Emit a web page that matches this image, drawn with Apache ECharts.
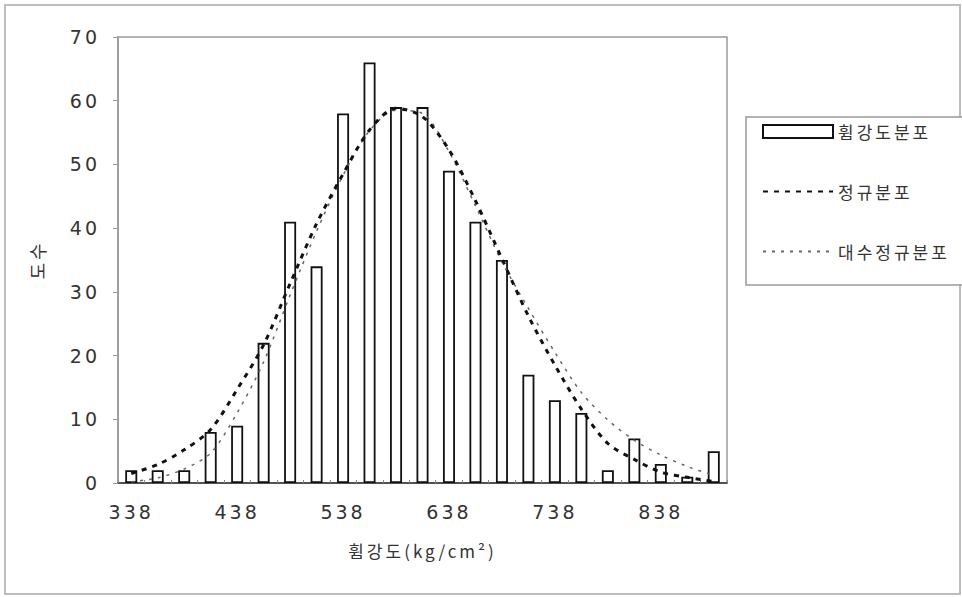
<!DOCTYPE html>
<html>
<head>
<meta charset="utf-8">
<script src="https://cdn.jsdelivr.net/npm/echarts@6/dist/echarts.min.js"></script>
<style>
  html, body { margin: 0; padding: 0; background: #fff; }
  #chart { width: 962px; height: 597px; }
  #chart svg text { letter-spacing: 3px; }
</style>
</head>
<body>
<div id="chart"></div>
<script>
// Data
const categories = ['338','363','388','413','438','463','488','513','538','563','588','613','638','663','688','713','738','763','788','813','838','863','888'];
const strengthFreq = [2, 2, 2, 8, 9, 22, 41, 34, 58, 66, 59, 59, 49, 41, 35, 17, 13, 11, 2, 7, 3, 1, 5];
const normalDist = [1.5, 2.9, 5.2, 8.4, 14.7, 21.7, 31.3, 40.7, 48.5, 55.4, 58.8, 57.5, 52.3, 44.3, 35.2, 26.2, 18.5, 11.6, 6.2, 3.7, 1.7, 0.9, 0.2];
const logNormalDist = [0.2, 0.8, 2.2, 4.7, 11.0, 19.0, 29.5, 39.5, 48.3, 55.3, 58.5, 58.0, 52.0, 43.5, 34.7, 27.4, 20.5, 14.2, 9.9, 6.7, 4.4, 2.6, 1.2];
const seriesNames = ['휨강도분포', '정규분포', '대수정규분포'];
const xAxisTitle = '휨강도(kg/cm²)';
const yAxisTitle = '도수';

const numFont = 'DejaVu Sans';
const krFont = '"Noto Sans CJK KR", "Noto Sans", sans-serif';
const hiddenSymbol = { color: 'rgba(0,0,0,0)', borderColor: 'rgba(0,0,0,0)', borderWidth: 0 };

const chart = echarts.init(document.getElementById('chart'), null, { renderer: 'svg' });
chart.setOption({
  backgroundColor: '#ffffff',
  animation: false,
  graphic: [
    { type: 'rect', shape: { x: 5, y: 5, width: 955, height: 589 }, style: { fill: 'none', stroke: '#bdbdbd', lineWidth: 2 }, silent: true, z: -10 },
    { type: 'rect', shape: { x: 746, y: 117, width: 230, height: 168 }, style: { fill: '#fff', stroke: '#999', lineWidth: 1.5 }, silent: true, z: -5 }
  ],
  grid: { left: 118, right: 235, top: 37, bottom: 114, show: true, borderColor: '#999', borderWidth: 1.5, backgroundColor: 'transparent' },
  legend: {
    orient: 'vertical',
    left: 757, top: 118,
    itemWidth: 70, itemHeight: 13, itemGap: 43,
    textStyle: { fontFamily: krFont, fontSize: 17, color: '#333' },
    data: [
      { name: seriesNames[0], icon: 'rect' },
      { name: seriesNames[1], itemStyle: hiddenSymbol },
      { name: seriesNames[2], itemStyle: hiddenSymbol }
    ]
  },
  xAxis: {
    type: 'category',
    data: categories,
    boundaryGap: true,
    name: xAxisTitle,
    nameLocation: 'middle',
    nameGap: 59,
    nameTextStyle: { fontFamily: krFont, fontSize: 17, color: '#333' },
    axisLine: { lineStyle: { color: '#333', width: 1.5 } },
    axisTick: { show: true, inside: true, length: 3, interval: 0, lineStyle: { color: '#888' } },
    axisLabel: { interval: 3, margin: 19, fontFamily: numFont, fontSize: 19, color: '#333' },
    splitLine: { show: false }
  },
  yAxis: {
    type: 'value',
    min: 0, max: 70, interval: 10,
    name: yAxisTitle,
    nameLocation: 'middle',
    nameGap: 72,
    nameRotate: 90,
    nameTextStyle: { fontFamily: krFont, fontSize: 18, color: '#333' },
    axisLine: { show: true, lineStyle: { color: '#999', width: 1.5 } },
    axisTick: { show: true, length: 5, lineStyle: { color: '#999' } },
    axisLabel: { margin: 18, fontFamily: numFont, fontSize: 19, color: '#333' },
    splitLine: { show: false }
  },
  series: [
    {
      name: seriesNames[0],
      type: 'bar',
      data: strengthFreq,
      barWidth: 12,
      itemStyle: { color: '#ffffff', borderColor: '#111', borderWidth: 1.8 },
      z: 2
    },
    {
      name: seriesNames[1],
      type: 'line',
      data: normalDist,
      smooth: 0.3,
      symbol: 'none',
      lineStyle: { color: '#111', width: 3, type: [5, 6] },
      itemStyle: { color: '#111' },
      z: 4
    },
    {
      name: seriesNames[2],
      type: 'line',
      data: logNormalDist,
      smooth: 0.3,
      symbol: 'none',
      lineStyle: { color: '#666', width: 1.5, type: [3, 6] },
      itemStyle: { color: '#666' },
      z: 3
    }
  ]
});
</script>
</body>
</html>
